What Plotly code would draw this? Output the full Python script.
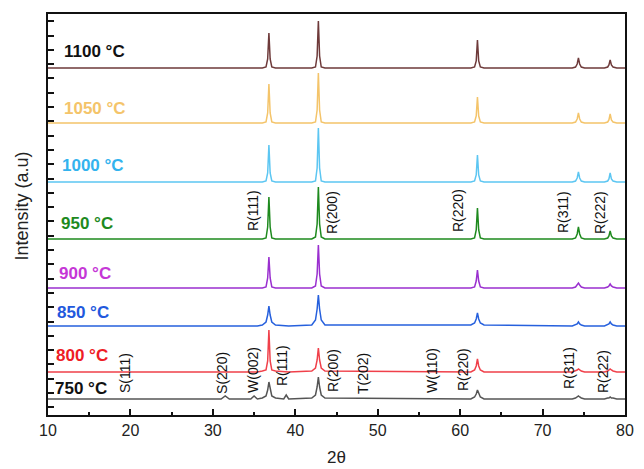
import plotly.graph_objects as go

# shared 2-theta grid (degrees)
two_theta = [10,
             31.0, 31.5, 32.0,
             34.6, 35.0, 35.4,
             36.0, 36.45, 36.65, 36.8, 36.95, 37.15, 37.6,
             38.6, 38.9, 39.2,
             42.0, 42.45, 42.65, 42.8, 42.95, 43.15, 43.6,
             61.3, 61.75, 61.95, 62.1, 62.25, 62.45, 62.9,
             73.6, 74.0, 74.2, 74.35, 74.5, 74.7, 75.1,
             77.5, 77.9, 78.05, 78.2, 78.35, 78.55, 79.0,
             80]

temperatures = ["1100", "1050", "1000", "950", "900", "850", "800", "750"]

# relative intensities (a.u.) above each pattern's baseline
i_1100 = [0, 0,0,0, 0,0,0, 0,1,9,35,9,1,0, 0,0,0, 0,1,12,47,12,1,0, 0,1,7,28,7,1,0, 0,1,4,10,4,1,0, 0,1,3,8,3,1,0, 0]
i_1050 = [0, 0,0,0, 0,0,0, 0,1,10,39,10,1,0, 0,0,0, 0,1,13,50,13,1,0, 0,1,7,26,7,1,0, 0,1,4,10,4,1,0, 0,1,3,9,3,1,0, 0]
i_1000 = [0, 0,0,0, 0,0,0, 0,1,9,37,9,1,0, 0,0,0, 0,1,14,54,14,1,0, 0,1,7,27,7,1,0, 0,1,4,10,4,1,0, 0,1,3,9,3,1,0, 0]
i_950 = [0, 0,0,0, 0,0,0, 0,1,12,42,12,1,0, 0,0,0, 0,2,15,52,15,2,0, 0,1,9,31,9,1,0, 0,1,5,12,5,1,0, 0,1,3,8,3,1,0, 0]
i_900 = [0, 0,0,0, 0,0,0, 0,1,10,31,10,1,0, 0,0,0, 0,2,14,43,14,2,0, 0,1,7,18,7,1,0, 0,1,3,5,3,1,0, 0,1,2,4,2,1,0, 0]
i_850 = [0, 0,0,0, 0,0,0, 1,4,11,20,11,4,1, 0,0,0, 1,6,17,31,17,6,1, 1,3,7,13,7,3,1, 0,1,2,4,2,1,0, 0,1,2,4,2,1,0, 0]
i_800 = [0, 0,0,0, 0,0,0, 1,2,11,42,11,2,1, 0,0,0, 1,4,12,24,12,4,1, 0,2,6,13,6,2,0, 0,1,2,3,2,1,0, 0,1,2,3,2,1,0, 0]
i_750 = [0, 0,3,0, 0,3,0, 1,3,9,17,9,3,1, 0,4,0, 1,4,12,22,12,4,1, 0,2,5,9,5,2,0, 0,1,2,3,2,1,0, 0,1,1,2,1,1,0, 0]
intensities = [i_1100, i_1050, i_1000, i_950, i_900, i_850, i_800, i_750]

# vertical stacking offsets
offsets = [347, 292, 233, 176, 127, 89, 43, 16]

line_colors = ["#6e3a3a", "#f4c46a", "#5cc6f2", "#1e8a1e", "#9a2fcf", "#2660dd", "#f0404a", "#555555"]
label_colors = ["#111111", "#f4c46a", "#33b3ee", "#1e8a1e", "#c537d6", "#2258dd", "#ee1c25", "#111111"]
label_x = [11.7, 11.7, 11.45, 11.3, 11.1, 10.85, 10.75, 10.55]
label_y = [364, 307, 250, 192, 142, 103, 60, 27]

# phase annotations
peak_labels_950 = ["R(111)", "R(200)", "R(220)", "R(311)", "R(222)"]
peak_x_950 = [34.87, 44.45, 59.74, 72.48, 76.97]
peak_y_950 = [204, 203, 204, 203, 202]
peak_labels_750 = ["S(111)", "S(220)", "W(002)", "R(111)", "R(200)", "T(202)", "W(110)", "R(220)", "R(311)", "R(222)"]
peak_x_750 = [19.34, 31.1, 34.87, 38.39, 44.57, 48.21, 56.58, 60.35, 73.2, 77.33]
peak_y_750 = [42, 42, 45, 49, 45, 42, 45, 45, 47, 44]

FONT = "Liberation Sans, Arial, sans-serif"

fig = go.Figure()
for t, vals, off, c in zip(temperatures, intensities, offsets, line_colors):
    fig.add_trace(go.Scatter(x=two_theta, y=[v + off for v in vals], mode="lines",
                             line=dict(color=c, width=1.5), name=t + " °C",
                             showlegend=False))

for t, c, lx, ly in zip(temperatures, label_colors, label_x, label_y):
    fig.add_annotation(x=lx, y=ly, text="<b>" + t + " °C</b>", showarrow=False,
                       xanchor="left", yanchor="middle",
                       font=dict(family=FONT, size=17, color=c))

for txt, px, py in list(zip(peak_labels_950, peak_x_950, peak_y_950)) + list(zip(peak_labels_750, peak_x_750, peak_y_750)):
    fig.add_annotation(x=px, y=py, text=txt, showarrow=False, textangle=-90,
                       xanchor="center", yanchor="middle",
                       font=dict(family=FONT, size=14, color="#111111"))

# axis titles
fig.add_annotation(xref="paper", yref="paper", x=0.5, y=-0.107, text="2θ", showarrow=False,
                   xanchor="center", yanchor="middle", font=dict(family=FONT, size=17, color="#222222"))
fig.add_annotation(xref="paper", yref="paper", x=-0.045, y=0.52, text="Intensity (a.u)", showarrow=False,
                   textangle=-90, xanchor="center", yanchor="middle",
                   font=dict(family=FONT, size=18, color="#222222"))

fig.update_layout(
    width=644, height=469,
    margin=dict(l=40, r=27, t=6, b=62, autoexpand=False),
    plot_bgcolor="white", paper_bgcolor="white",
    font=dict(family=FONT, color="#222222"),
)
fig.update_xaxes(range=[10, 80], tick0=10, dtick=10, ticks="inside", ticklen=6, tickwidth=1.5,
                 tickcolor="#111", showline=True, linecolor="#111", linewidth=1.8, mirror=True,
                 showgrid=False, zeroline=False, tickfont=dict(size=16), automargin=False,
                 minor=dict(ticks="inside", dtick=5, ticklen=3, tickcolor="#111"))
fig.update_yaxes(range=[0, 401], tick0=7.7, dtick=14.3, ticks="inside", ticklen=6, tickwidth=1.5,
                 tickcolor="#111", showline=True, linecolor="#111", linewidth=1.8, mirror=True,
                 showgrid=False, zeroline=False, showticklabels=False, automargin=False)

fig.write_html("out.html")
